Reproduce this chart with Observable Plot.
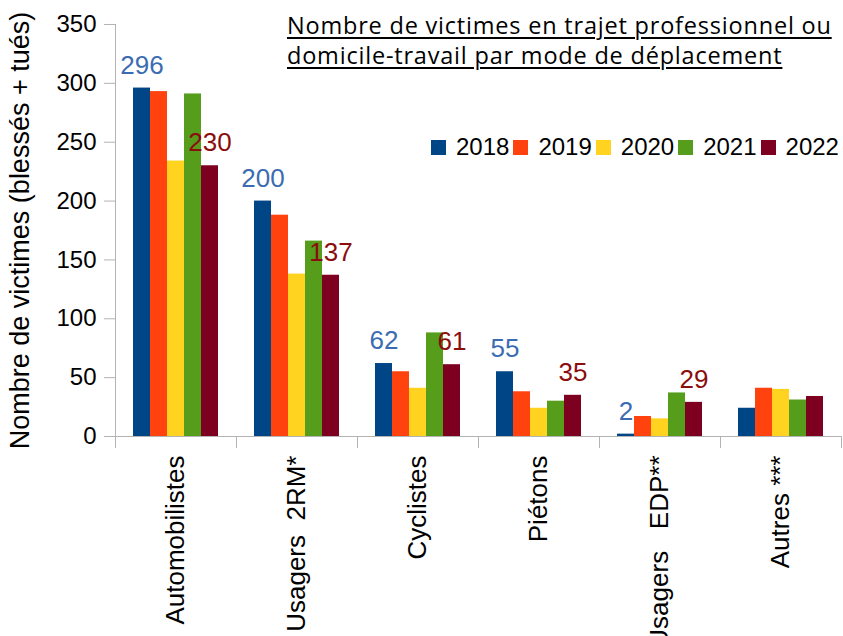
<!DOCTYPE html>
<html>
<head>
<meta charset="utf-8">
<script src="https://cdn.jsdelivr.net/npm/d3@7"></script>
<script src="https://cdn.jsdelivr.net/npm/@observablehq/plot@0.6"></script>
<style>
  html, body { margin: 0; padding: 0; background: #fff; }
  #wrap { position: relative; width: 843px; height: 636px; overflow: hidden; font-family: "Liberation Sans", Arial, sans-serif; }
  #wrap svg text { white-space: pre; }
  #title { position: absolute; left: 287px; top: 10px; font-family: "Open Sans", sans-serif; font-size: 23.5px; letter-spacing: 0.8px; line-height: 30px; text-decoration: underline; text-underline-offset: 3px; text-decoration-thickness: 1.5px; color: #000; white-space: nowrap; }
  #legend { position: absolute; left: 431px; top: 133px; display: flex; align-items: center; font-size: 24px; color: #000; }
  #legend .item { display: flex; align-items: center; margin-right: 4px; }
  #legend .sw { width: 15px; height: 15px; margin-right: 10px; }
</style>
</head>
<body>
<div id="wrap">
  <div id="chart"></div>
  <div id="title">Nombre de victimes en trajet professionnel ou<br>domicile-travail par mode de déplacement</div>
  <div id="legend"></div>
</div>
<script>
const categories = ["Automobilistes", "Usagers  2RM*", "Cyclistes", "Piétons", "Usagers   EDP**", "Autres ***"];
const years = ["2018", "2019", "2020", "2021", "2022"];
const v2018 = [296, 200, 62, 55, 2, 24];
const v2019 = [293, 188, 55, 38, 17, 41];
const v2020 = [234, 138, 41, 24, 15, 40];
const v2021 = [291, 166, 88, 30, 37, 31];
const v2022 = [230, 137, 61, 35, 29, 34];
const colors = ["#004586", "#ff420e", "#ffd320", "#579d1c", "#7e0021"];
const labelledCategories = ["Automobilistes", "Usagers  2RM*", "Cyclistes", "Piétons", "Usagers   EDP**"];
const yTicks = [0, 50, 100, 150, 200, 250, 300, 350];
const yTitle = "Nombre de victimes (blessés + tués)";

const series = [v2018, v2019, v2020, v2021, v2022];
const rows = [];
categories.forEach((c, i) => years.forEach((y, j) => rows.push({category: c, year: y, value: series[j][i]})));
const lab2018 = rows.filter(d => d.year === "2018" && labelledCategories.includes(d.category));
const lab2022 = rows.filter(d => d.year === "2022" && labelledCategories.includes(d.category));

const gray = "#b3b3b3";
const chart = Plot.plot({
  width: 843,
  height: 636,
  marginLeft: 115,
  marginRight: 2,
  marginTop: 24,
  marginBottom: 200,
  style: {fontFamily: "Liberation Sans, Arial, sans-serif", fontSize: "24px", color: "#000", background: "transparent"},
  fx: {domain: categories, padding: 0, label: null},
  x: {domain: years, paddingInner: 0, paddingOuter: 0.975, axis: null},
  y: {domain: [0, 350], label: null},
  color: {domain: years, range: colors},
  marks: [
    Plot.frame({anchor: "left", stroke: gray, insetTop: 412, insetBottom: -11}),
    Plot.frame({anchor: "right", stroke: gray, insetTop: 412, insetBottom: -11}),
    Plot.frame({anchor: "left", facetAnchor: "left", stroke: gray}),
    Plot.ruleY([0], {stroke: gray}),
    Plot.axisY(yTicks, {tickSize: 11, tickPadding: 8, stroke: gray, fill: "#000", fontSize: 24}),
    Plot.axisY({ticks: [], tickSize: 0, label: yTitle, labelAnchor: "center", labelArrow: "none", labelOffset: 106, fontSize: 27, fill: "#000"}),
    Plot.axisFx({anchor: "bottom", tickSize: 0, tickRotate: -90, tickPadding: 19, fontSize: 26, fill: "#000", label: null}),
    Plot.barY(rows, {fx: "category", x: "year", y: "value", fill: "year"}),
    Plot.text(lab2018, {fx: "category", x: "year", y: "value", text: d => String(d.value), fill: "#3b6cb2", fontSize: 26, lineAnchor: "bottom", dy: -14.5}),
    Plot.text(lab2022, {fx: "category", x: "year", y: "value", text: d => String(d.value), fill: "#8b0d0d", fontSize: 26, lineAnchor: "bottom", dy: -14.5})
  ]
});
document.getElementById("chart").appendChild(chart);

const legend = document.getElementById("legend");
years.forEach((y, i) => {
  const item = document.createElement("div");
  item.className = "item";
  const sw = document.createElement("div");
  sw.className = "sw";
  sw.style.background = colors[i];
  const t = document.createElement("span");
  t.textContent = y;
  item.appendChild(sw);
  item.appendChild(t);
  legend.appendChild(item);
});
</script>
</body>
</html>
